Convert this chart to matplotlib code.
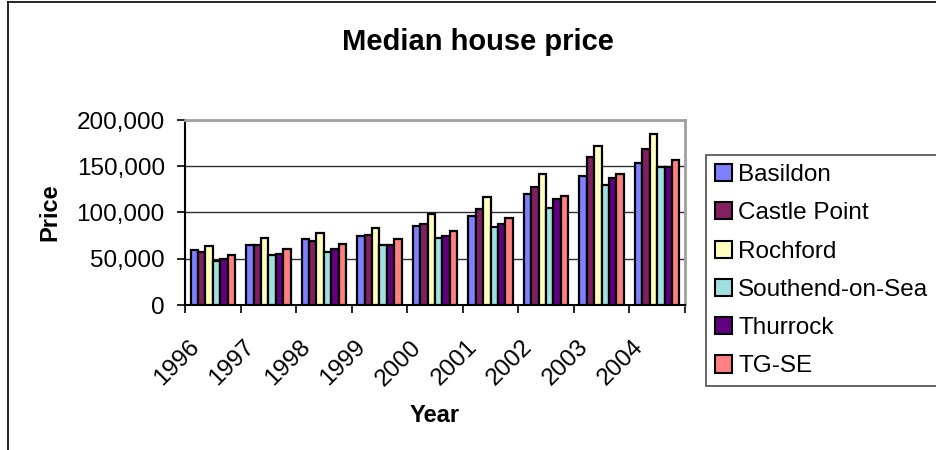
import numpy as np
import matplotlib
matplotlib.use("Agg")
import matplotlib.pyplot as plt
from matplotlib.patches import Patch
from matplotlib.lines import Line2D
from matplotlib.ticker import StrMethodFormatter, MultipleLocator
from matplotlib.transforms import ScaledTranslation

plt.rcParams['font.family'] = ['Liberation Sans', 'DejaVu Sans']

# --- data ---
years = ['1996', '1997', '1998', '1999', '2000', '2001', '2002', '2003', '2004']
areas = ['Basildon', 'Castle Point', 'Rochford', 'Southend-on-Sea', 'Thurrock', 'TG-SE']

basildon = [59500, 65000, 71000, 75000, 85000, 96000, 119500, 139500, 153500]
castle_point = [57500, 65000, 69500, 76000, 88000, 104000, 128000, 159500, 169000]
rochford = [63500, 72000, 77500, 83000, 98500, 116500, 141500, 171500, 184500]
southend = [47500, 54500, 57500, 65000, 72000, 84000, 104500, 129500, 149500]
thurrock = [49500, 55500, 61000, 65000, 75000, 88000, 115000, 137000, 149500]
tg_se = [54500, 61000, 65500, 71000, 80500, 94000, 117500, 142000, 156500]

series = [basildon, castle_point, rochford, southend, thurrock, tg_se]
colors = ['#8080ff', '#802060', '#ffffc0', '#a0e0e0', '#600080', '#ff8080']

# --- figure ---
W, H = 937, 450
fig = plt.figure(figsize=(W / 100, H / 100), dpi=100)
ax = fig.add_axes([185 / W, 1 - 305 / H, 500 / W, 185 / H])

x = np.arange(len(years))
bw = 0.133
for i, (vals, c) in enumerate(zip(series, colors)):
    ax.bar(x + (i - 2.5) * bw, vals, width=bw, color=c, edgecolor='black',
           linewidth=1.6, label=areas[i], zorder=3)

ax.set_xlim(-0.5, len(years) - 0.5)
ax.set_ylim(0, 200000)
ax.yaxis.set_major_locator(MultipleLocator(50000))
ax.yaxis.set_major_formatter(StrMethodFormatter('{x:,.0f}'))
ax.grid(axis='y', color='#303030', linewidth=1.0, zorder=0)
ax.set_axisbelow(True)

for side in ['left', 'bottom']:
    ax.spines[side].set_color('black')
    ax.spines[side].set_linewidth(1.5)
for side in ['top', 'right']:
    ax.spines[side].set_color('#a0a0a0')
    ax.spines[side].set_linewidth(2)

# category labels at centres, tick marks between categories
ax.set_xticks(x)
ax.set_xticklabels(years)
ax.set_xticks(np.arange(-0.5, len(years)), minor=True)
ax.tick_params(axis='x', which='major', length=0, pad=28, labelsize=17.5)
ax.tick_params(axis='x', which='minor', length=6, width=1.2, direction='out')
ax.tick_params(axis='y', length=6, width=1.2, direction='out', pad=8.5, labelsize=17.5)
for lab in ax.get_xticklabels():
    lab.set_rotation(45)
    lab.set_rotation_mode('anchor')
    lab.set_ha('right')
    lab.set_va('center')
    lab.set_transform(lab.get_transform() + ScaledTranslation(-17 / 100, 0, fig.dpi_scale_trans))

fig.text(478 / W, 1 - 42 / H, 'Median house price', ha='center', va='center',
         fontsize=21, fontweight='bold')
fig.text(435 / W, 1 - 415 / H, 'Year', ha='center', va='center',
         fontsize=17, fontweight='bold')
fig.text(50 / W, 1 - 212 / H, 'Price', ha='center', va='center',
         fontsize=17, fontweight='bold', rotation=90)

# legend box runs off the right edge
handles = [Patch(facecolor=c, edgecolor='black', linewidth=1.5) for c in colors]
leg = fig.legend(handles, areas, loc='upper left',
                 bbox_to_anchor=(706 / W, 1 - 379 / H, 300 / W, 224 / H),
                 mode='expand', fontsize=17.5, frameon=True, fancybox=False,
                 edgecolor='#202020', borderpad=0.37, labelspacing=0.67,
                 handlelength=0.7, handleheight=0.7, handletextpad=0.25,
                 borderaxespad=0)
leg.get_frame().set_linewidth(1.2)

# outer chart border
fig.add_artist(Line2D([8 / W, 8 / W], [0, 1 - 2 / H], color='black', linewidth=1.2,
                      transform=fig.transFigure))
fig.add_artist(Line2D([8 / W, 1], [1 - 2 / H, 1 - 2 / H], color='black', linewidth=1.2,
                      transform=fig.transFigure))

fig.savefig('out.png', dpi=100)
